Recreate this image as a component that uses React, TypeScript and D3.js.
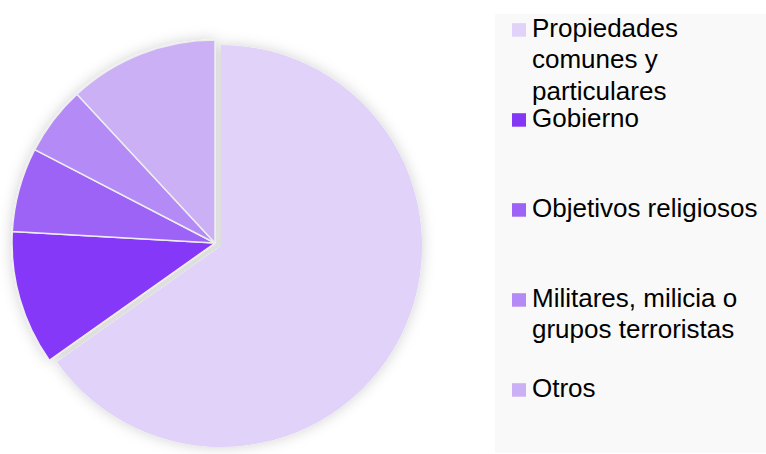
import React, { useRef, useEffect } from 'react';
import { select, pie, arc, scaleOrdinal } from 'd3';

const categories = [
  'Propiedades comunes y particulares',
  'Gobierno',
  'Objetivos religiosos',
  'Militares, milicia o grupos terroristas',
  'Otros',
];
const values = [65.2, 10.7, 6.7, 5.5, 11.9];
const legendLines = [
  ['Propiedades', 'comunes y', 'particulares'],
  ['Gobierno'],
  ['Objetivos religiosos'],
  ['Militares, milicia o', 'grupos terroristas'],
  ['Otros'],
];
const colors = ['#e0d2f8', '#8537f8', '#9d62f6', '#b48af6', '#cbb0f6'];

function App() {
  const rootRef = useRef<SVGSVGElement>(null);
  const width = 766;
  const height = 454;

  useEffect(() => {
    const root = select(rootRef.current);
    root.selectAll('*').remove();

    const color = scaleOrdinal<string, string>().domain(categories).range(colors);
    const data = categories.map((c, i) => ({ name: c, value: values[i], lines: legendLines[i] }));
    const arcs = pie<any>().sort(null).value((d: any) => d.value)(data);

    const defs = root.append('defs');
    const f = defs.append('filter').attr('id', 'shadow')
      .attr('x', '-20%').attr('y', '-20%').attr('width', '140%').attr('height', '140%');
    f.append('feDropShadow').attr('dx', 0).attr('dy', 0)
      .attr('stdDeviation', 7).attr('flood-color', '#000').attr('flood-opacity', 0.18);

    // big slice is pulled out a little from the rest
    const g = root.append('g').attr('filter', 'url(#shadow)');

    const small = g.append('g').attr('transform', 'translate(215,243)');
    small.selectAll('path')
      .data(arcs.slice(1))
      .enter().append('path')
      .attr('d', arc<any>().innerRadius(0).outerRadius(203) as any)
      .attr('fill', (d: any) => color(d.data.name))
      .attr('stroke', '#ededed')
      .attr('stroke-width', 1.5)
      .attr('stroke-linejoin', 'round');

    const big = g.append('g').attr('transform', 'translate(221,246)');
    big.selectAll('path')
      .data(arcs.slice(0, 1))
      .enter().append('path')
      .attr('d', arc<any>().innerRadius(0).outerRadius(201) as any)
      .attr('fill', (d: any) => color(d.data.name));

    // legend
    root.append('rect')
      .attr('x', 495).attr('y', 14)
      .attr('width', width - 495).attr('height', 439)
      .attr('fill', '#f9f9f9');

    const items = root.append('g').selectAll('g')
      .data(data)
      .enter().append('g')
      .attr('transform', (d, i) => `translate(512,${36.7 + 90 * i})`);

    items.append('rect')
      .attr('x', 0).attr('y', -13.5)
      .attr('width', 14).attr('height', 13.5)
      .attr('fill', d => color(d.name));

    const text = items.append('text')
      .attr('x', 20)
      .attr('font-family', '"Liberation Sans", Arial, sans-serif')
      .attr('font-size', 26)
      .attr('fill', '#000');
    text.selectAll('tspan')
      .data(d => d.lines)
      .enter().append('tspan')
      .attr('x', 20)
      .attr('y', (d, i) => i * 31.6)
      .text(d => d);
  });

  return (
    <svg
      ref={rootRef}
      width={width}
      height={height}
      style={{ position: 'absolute', left: 0, top: 0, background: '#fff' }}
    ></svg>
  );
}

export default App;
